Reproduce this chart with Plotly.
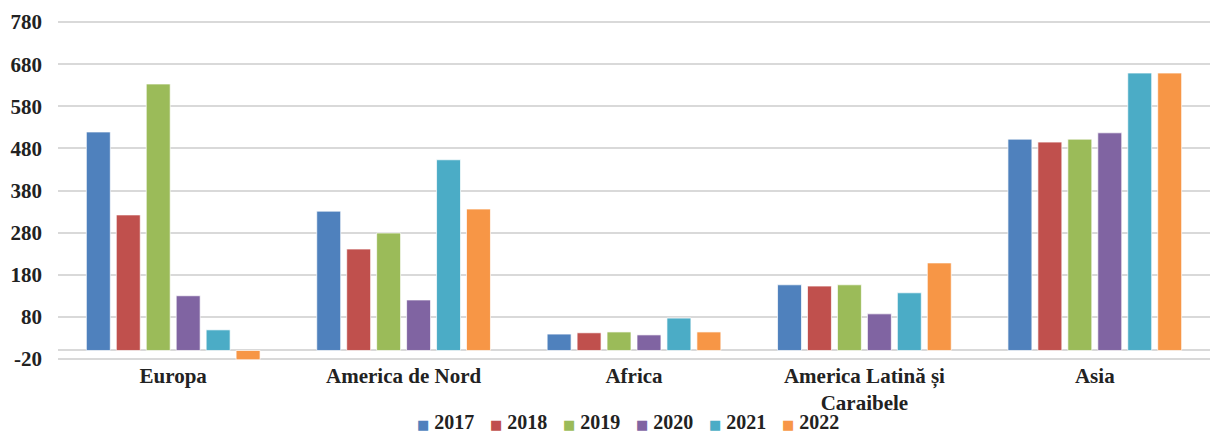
import plotly.graph_objects as go

categories = ["Europa", "America de Nord", "Africa", "America Latină și<br>Caraibele", "Asia"]
years = ["2017", "2018", "2019", "2020", "2021", "2022"]
v2017 = [519, 331, 39, 156, 502]
v2018 = [322, 241, 42, 153, 495]
v2019 = [633, 279, 44, 156, 502]
v2020 = [130, 120, 37, 87, 517]
v2021 = [49, 453, 77, 137, 659]
v2022 = [-22, 336, 44, 208, 659]
series = [v2017, v2018, v2019, v2020, v2021, v2022]
colors = ["#4F81BD", "#C0504D", "#9BBB59", "#8064A2", "#4BACC6", "#F79646"]
yticks = [-20, 80, 180, 280, 380, 480, 580, 680, 780]

fig = go.Figure()
for name, vals, col in zip(years, series, colors):
    fig.add_trace(go.Bar(
        x=categories, y=vals, name=name,
        marker=dict(color=col, line=dict(color="rgba(255,255,255,0.7)", width=1)),
    ))

font_family = "Liberation Serif"
L, T, W, B = 58, 20, 1152, 361  # plot area in px
fig.update_layout(
    width=1210, height=437,
    margin=dict(l=L, r=0, t=T, b=437 - B, autoexpand=False),
    paper_bgcolor="white", plot_bgcolor="white",
    barmode="group", bargap=0.22, bargroupgap=0.2,
    font=dict(family=font_family, size=21, color="#222222", weight="bold"),
    showlegend=False,
)

# legend drawn as annotations (one per series)
leg_start, leg_pitch, leg_y = 416, 73, 422
for i, (name, col) in enumerate(zip(years, colors)):
    fig.add_annotation(
        xref="paper", yref="paper",
        x=(leg_start + i * leg_pitch - L) / W,
        y=(B - leg_y) / (B - T),
        xanchor="left", yanchor="middle", showarrow=False, borderpad=0,
        text=f"<span style='color:{col};font-family:DejaVu Sans;font-size:13px'>■</span> {name}",
        font=dict(family=font_family, size=20, color="#222222", weight="bold"),
    )

fig.update_yaxes(
    range=[-25, 785], tickvals=yticks, ticktext=[str(t) for t in yticks],
    showgrid=True, gridcolor="#D9D9D9", gridwidth=2,
    zeroline=True, zerolinecolor="#D9D9D9", zerolinewidth=2,
    showline=False, ticks="", ticklabelstandoff=15, automargin=False,
    tickfont=dict(family=font_family, size=21, weight="bold"),
)
fig.update_xaxes(
    showgrid=False, showline=False, ticks="", automargin=False,
    tickfont=dict(family=font_family, size=21, weight="bold"),
    tickangle=0,
)
fig.write_html("out.html", config={"displayModeBar": False},
               post_script="document.body.style.margin='0';")
